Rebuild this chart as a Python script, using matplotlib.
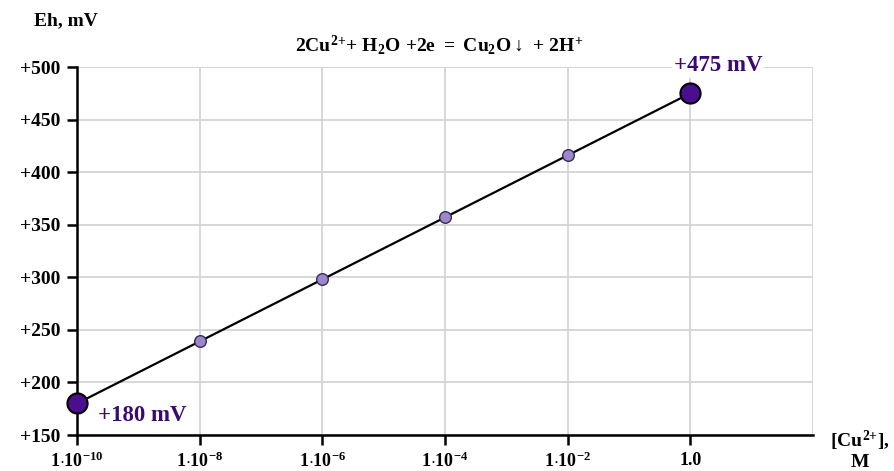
import numpy as np
import matplotlib.pyplot as plt

plt.rcParams['font.family'] = ['Liberation Serif', 'DejaVu Serif']
plt.rcParams['font.weight'] = 'bold'
plt.rcParams['mathtext.fontset'] = 'custom'
plt.rcParams['mathtext.rm'] = 'Liberation Serif:bold'
plt.rcParams['mathtext.bf'] = 'Liberation Serif:bold'
plt.rcParams['mathtext.it'] = 'Liberation Serif:bold'

# log10 of [Cu2+] concentration, M
log_conc = [-10, -8, -6, -4, -2, 0]
eh_mv = [180, 239, 298, 357, 416, 475]
x_labels = [r'$1{\cdot}10^{-10}$', r'$1{\cdot}10^{-8}$', r'$1{\cdot}10^{-6}$',
            r'$1{\cdot}10^{-4}$', r'$1{\cdot}10^{-2}$', '1.0']
y_ticks = [150, 200, 250, 300, 350, 400, 450, 500]

fig = plt.figure(figsize=(8.94, 4.71), dpi=100)
ax = fig.add_axes([0.0861, 0.0764, 0.8233, 0.7813])

ax.plot(log_conc, eh_mv, color='black', lw=1.6, zorder=3, clip_on=False)
ax.scatter(log_conc[1:-1], eh_mv[1:-1], s=70, color='#9a88c8', edgecolor='#3a2a5a',
           linewidth=1, zorder=4, clip_on=False)
ax.scatter([log_conc[0], log_conc[-1]], [eh_mv[0], eh_mv[-1]], s=210, color='#4a0e8f',
           edgecolor='black', linewidth=1.5, zorder=5, clip_on=False)

ax.set_xlim(-10, 2)
ax.set_ylim(150, 500)
ax.set_xticks(log_conc)
ax.set_xticklabels(x_labels, fontsize=13)
ax.set_yticks(y_ticks)
ax.set_yticklabels(['+%d' % v for v in y_ticks], fontsize=14)

ax.set_xticks([2], minor=True)
ax.grid(True, color='#d4d4d4', lw=1.3, zorder=0)
ax.grid(True, which='minor', axis='x', color='#d4d4d4', lw=1.3, zorder=0)
ax.tick_params(axis='x', which='minor', length=0)
ax.axhline(500, color='#d4d4d4', lw=1.3, zorder=0)

for s in ['top', 'right']:
    ax.spines[s].set_visible(False)
ax.spines['left'].set_linewidth(1.8)
ax.spines['bottom'].set_linewidth(1.8)
ax.tick_params(axis='both', which='major', direction='out', width=1.8, length=7)
ax.tick_params(axis='x', pad=5)
ax.tick_params(axis='y', pad=5)

ax.text(0.45, 501, '+475 mV', color='#3a0a6e', fontsize=16.5, fontweight='bold',
        ha='center', va='center',
        bbox=dict(facecolor='white', edgecolor='none', pad=1))
ax.text(-9.66, 169, '+180 mV', color='#3a0a6e', fontsize=16.5, fontweight='bold',
        ha='left', va='center')

fig.text(0.33, 0.905, r'$2Cu^{2{+}}{+}\ H_2O\ {+}2e\ {=}\ Cu_2O{\downarrow}\ {+}\ 2H^{{+}}$',
         fontsize=14, ha='left', va='center')
fig.text(0.038, 0.955, 'Eh, mV', fontsize=14, ha='left', va='center')
fig.text(0.962, 0.063, r'$[Cu^{2{+}}],$', fontsize=14, ha='center', va='center')
fig.text(0.962, 0.018, 'M', fontsize=14, ha='center', va='center')

fig.savefig('out.png', dpi=100)
